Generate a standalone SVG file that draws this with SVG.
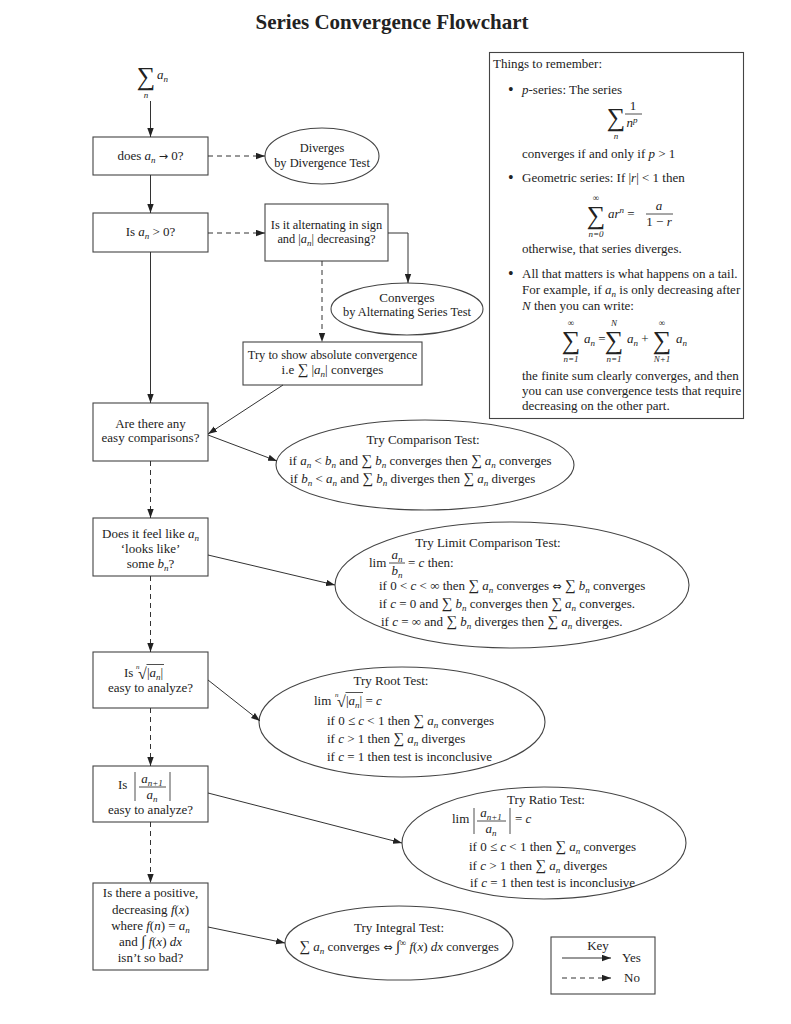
<svg xmlns="http://www.w3.org/2000/svg" width="791" height="1024" viewBox="0 0 791 1024">
<defs>
<marker id="ah" markerWidth="10" markerHeight="7" refX="9" refY="3.5" orient="auto" markerUnits="userSpaceOnUse"><path d="M0,0.3 L9,3.5 L0,6.7 z" fill="#222"/></marker>
<style>
text { font-family: "Liberation Serif", "DejaVu Serif", serif; font-size: 13px; fill: #222; }
.c { text-anchor: middle; }
.m { font-style: italic; }
.sub { font-size: 9px; font-style: italic; }
.sup { font-size: 9px; }
.big { font-size: 26px; }
.s { font-size: 15px; }
.sym { font-family: "DejaVu Sans", sans-serif; font-size: 11px; }
.bul { font-size: 16px; }
.tight { font-size: 12.4px; }
.title { font-size: 21px; font-weight: bold; }
.shape rect, .shape ellipse { fill: #fff; stroke: #444; stroke-width: 1.1; }
.edge { stroke: #333; stroke-width: 1; fill: none; marker-end: url(#ah); }
.dash { stroke-dasharray: 5 4; }
.rule { stroke: #222; stroke-width: 0.8; }
</style>
</defs>
<rect width="791" height="1024" fill="#fff"/>
<text class="title c" x="392" y="29">Series Convergence Flowchart</text>

<g id="start">
<text class="big c" x="146" y="85">∑</text>
<text x="157" y="79"><tspan class="m">a</tspan><tspan class="sub" dy="2.5">n</tspan></text>
<text class="sub c" x="146" y="98">n</text>
</g>

<g id="q-zero" class="shape">
<rect x="93" y="137" width="115" height="38"/>
<text class="c" x="150.5" y="160">does <tspan class="m">a</tspan><tspan class="sub" dy="2.5">n</tspan><tspan dy="-2.5"> </tspan><tspan class="sym">→</tspan> 0?</text>
</g>

<g id="diverges" class="shape">
<ellipse cx="322" cy="156" rx="57" ry="28"/>
<text class="c tight" x="322" y="152">Diverges</text>
<text class="c tight" x="322" y="167">by Divergence Test</text>
</g>

<g id="q-positive" class="shape">
<rect x="93" y="213" width="115" height="39"/>
<text class="c" x="150.5" y="236">Is <tspan class="m">a</tspan><tspan class="sub" dy="2.5">n</tspan><tspan dy="-2.5"> &gt; 0?</tspan></text>
</g>

<g id="q-alternating" class="shape">
<rect x="265" y="204" width="123" height="57"/>
<text class="c tight" x="326.5" y="229">Is it alternating in sign</text>
<text class="c tight" x="326.5" y="243">and |<tspan class="m">a</tspan><tspan class="sub" dy="2.5">n</tspan><tspan dy="-2.5">| decreasing?</tspan></text>
</g>

<g id="alt-converges" class="shape">
<ellipse cx="407" cy="309" rx="76" ry="26"/>
<text class="c" x="407" y="302">Converges</text>
<text class="c tight" x="407" y="316">by Alternating Series Test</text>
</g>

<g id="absolute" class="shape">
<rect x="243" y="342" width="179" height="43"/>
<text class="c tight" x="332.5" y="359">Try to show absolute convergence</text>
<text class="c" x="332.5" y="374">i.e <tspan class="s">∑</tspan> |<tspan class="m">a</tspan><tspan class="sub" dy="2.5">n</tspan><tspan dy="-2.5">| converges</tspan></text>
</g>

<g id="q-comparison" class="shape">
<rect x="93" y="403" width="115" height="58"/>
<text class="c" x="150.5" y="428">Are there any</text>
<text class="c" x="150.5" y="442">easy comparisons?</text>
</g>

<g id="comparison" class="shape">
<ellipse cx="425" cy="465" rx="149" ry="45"/>
<text class="c" x="423" y="444">Try Comparison Test:</text>
<text x="289" y="465">if <tspan class="m">a</tspan><tspan class="sub" dy="2.5">n</tspan><tspan dy="-2.5"> &lt; </tspan><tspan class="m">b</tspan><tspan class="sub" dy="2.5">n</tspan><tspan dy="-2.5"> and </tspan><tspan class="s">∑</tspan> <tspan class="m">b</tspan><tspan class="sub" dy="2.5">n</tspan><tspan dy="-2.5"> converges then </tspan><tspan class="s">∑</tspan> <tspan class="m">a</tspan><tspan class="sub" dy="2.5">n</tspan><tspan dy="-2.5"> converges</tspan></text>
<text x="290" y="483">if <tspan class="m">b</tspan><tspan class="sub" dy="2.5">n</tspan><tspan dy="-2.5"> &lt; </tspan><tspan class="m">a</tspan><tspan class="sub" dy="2.5">n</tspan><tspan dy="-2.5"> and </tspan><tspan class="s">∑</tspan> <tspan class="m">b</tspan><tspan class="sub" dy="2.5">n</tspan><tspan dy="-2.5"> diverges then </tspan><tspan class="s">∑</tspan> <tspan class="m">a</tspan><tspan class="sub" dy="2.5">n</tspan><tspan dy="-2.5"> diverges</tspan></text>
</g>

<g id="q-looks-like" class="shape">
<rect x="93" y="518" width="115" height="58"/>
<text class="c" x="150.5" y="538">Does it feel like <tspan class="m">a</tspan><tspan class="sub" dy="2.5">n</tspan></text>
<text class="c" x="150.5" y="553">‘looks like’</text>
<text class="c" x="150.5" y="568">some <tspan class="m">b</tspan><tspan class="sub" dy="2.5">n</tspan><tspan dy="-2.5">?</tspan></text>
</g>

<g id="limit-comparison" class="shape">
<ellipse cx="512" cy="585" rx="177" ry="63"/>
<text class="c" x="488" y="547">Try Limit Comparison Test:</text>
<text x="369" y="567">lim</text>
<text class="c" x="397" y="559"><tspan class="m">a</tspan><tspan class="sub" dy="2.5">n</tspan></text>
<line class="rule" x1="389" y1="563" x2="405" y2="563"/>
<text class="c" x="397" y="575"><tspan class="m">b</tspan><tspan class="sub" dy="2.5">n</tspan></text>
<text x="408" y="567">= <tspan class="m">c</tspan> then:</text>
<text x="379" y="590">if 0 &lt; <tspan class="m">c</tspan> &lt; ∞ then <tspan class="s">∑</tspan> <tspan class="m">a</tspan><tspan class="sub" dy="2.5">n</tspan><tspan dy="-2.5"> converges </tspan><tspan class="sym">⇔</tspan> <tspan class="s">∑</tspan> <tspan class="m">b</tspan><tspan class="sub" dy="2.5">n</tspan><tspan dy="-2.5"> converges</tspan></text>
<text x="379" y="608">if <tspan class="m">c</tspan> = 0 and <tspan class="s">∑</tspan> <tspan class="m">b</tspan><tspan class="sub" dy="2.5">n</tspan><tspan dy="-2.5"> converges then </tspan><tspan class="s">∑</tspan> <tspan class="m">a</tspan><tspan class="sub" dy="2.5">n</tspan><tspan dy="-2.5"> converges.</tspan></text>
<text x="381" y="626">if <tspan class="m">c</tspan> = ∞ and <tspan class="s">∑</tspan> <tspan class="m">b</tspan><tspan class="sub" dy="2.5">n</tspan><tspan dy="-2.5"> diverges then </tspan><tspan class="s">∑</tspan> <tspan class="m">a</tspan><tspan class="sub" dy="2.5">n</tspan><tspan dy="-2.5"> diverges.</tspan></text>
</g>

<g id="q-root" class="shape">
<rect x="93" y="652" width="115" height="56"/>
<text x="124" y="677">Is</text>
<text class="sub" x="136" y="669" style="font-size:7px">n</text>
<text x="138" y="679" style="font-size:16px">√</text>
<line class="rule" x1="146.5" y1="664.5" x2="164" y2="664.5"/>
<text x="147" y="677">|<tspan class="m">a</tspan><tspan class="sub" dy="2.5">n</tspan><tspan dy="-2.5">|</tspan></text>
<text class="c" x="150.5" y="692">easy to analyze?</text>
</g>

<g id="root" class="shape">
<ellipse cx="402" cy="722" rx="143" ry="55"/>
<text class="c" x="391" y="685">Try Root Test:</text>
<text x="314" y="705">lim</text>
<text class="sub" x="335" y="697" style="font-size:7px">n</text>
<text x="337" y="707" style="font-size:16px">√</text>
<line class="rule" x1="345.5" y1="692.5" x2="363" y2="692.5"/>
<text x="346" y="705">|<tspan class="m">a</tspan><tspan class="sub" dy="2.5">n</tspan><tspan dy="-2.5">| = </tspan><tspan class="m">c</tspan></text>
<text x="327" y="725">if 0 ≤ <tspan class="m">c</tspan> &lt; 1 then <tspan class="s">∑</tspan> <tspan class="m">a</tspan><tspan class="sub" dy="2.5">n</tspan><tspan dy="-2.5"> converges</tspan></text>
<text x="327" y="743">if <tspan class="m">c</tspan> &gt; 1 then <tspan class="s">∑</tspan> <tspan class="m">a</tspan><tspan class="sub" dy="2.5">n</tspan><tspan dy="-2.5"> diverges</tspan></text>
<text x="327" y="761">if <tspan class="m">c</tspan> = 1 then test is inconclusive</text>
</g>

<g id="q-ratio" class="shape">
<rect x="93" y="766" width="115" height="56"/>
<text x="118" y="789">Is</text>
<line class="rule" x1="135" y1="772" x2="135" y2="801"/>
<text class="c" x="152" y="783"><tspan class="m">a</tspan><tspan class="sub" dy="2.5">n+1</tspan></text>
<line class="rule" x1="139" y1="787" x2="166" y2="787"/>
<text class="c" x="152" y="799"><tspan class="m">a</tspan><tspan class="sub" dy="2.5">n</tspan></text>
<line class="rule" x1="170" y1="772" x2="170" y2="801"/>
<text class="c" x="150.5" y="814">easy to analyze?</text>
</g>

<g id="ratio" class="shape">
<ellipse cx="544" cy="843" rx="142" ry="56"/>
<text class="c" x="546" y="804">Try Ratio Test:</text>
<text x="452" y="823">lim</text>
<line class="rule" x1="474" y1="808" x2="474" y2="834"/>
<text class="c" x="491" y="817"><tspan class="m">a</tspan><tspan class="sub" dy="2.5">n+1</tspan></text>
<line class="rule" x1="477" y1="821" x2="506" y2="821"/>
<text class="c" x="491" y="833"><tspan class="m">a</tspan><tspan class="sub" dy="2.5">n</tspan></text>
<line class="rule" x1="510" y1="808" x2="510" y2="834"/>
<text x="515" y="823">= <tspan class="m">c</tspan></text>
<text x="469" y="851">if 0 ≤ <tspan class="m">c</tspan> &lt; 1 then <tspan class="s">∑</tspan> <tspan class="m">a</tspan><tspan class="sub" dy="2.5">n</tspan><tspan dy="-2.5"> converges</tspan></text>
<text x="469" y="870">if <tspan class="m">c</tspan> &gt; 1 then <tspan class="s">∑</tspan> <tspan class="m">a</tspan><tspan class="sub" dy="2.5">n</tspan><tspan dy="-2.5"> diverges</tspan></text>
<text x="470" y="887">if <tspan class="m">c</tspan> = 1 then test is inconclusive</text>
</g>

<g id="q-integral" class="shape">
<rect x="93" y="883" width="115" height="87"/>
<text class="c" x="150.5" y="897">Is there a positive,</text>
<text class="c" x="150.5" y="914">decreasing <tspan class="m">f</tspan>(<tspan class="m">x</tspan>)</text>
<text class="c" x="150.5" y="930">where <tspan class="m">f</tspan>(<tspan class="m">n</tspan>) = <tspan class="m">a</tspan><tspan class="sub" dy="2.5">n</tspan></text>
<text class="c" x="150.5" y="946">and <tspan class="s">∫</tspan> <tspan class="m">f</tspan>(<tspan class="m">x</tspan>) <tspan class="m">dx</tspan></text>
<text class="c" x="150.5" y="962">isn’t so bad?</text>
</g>

<g id="integral" class="shape">
<ellipse cx="399" cy="943" rx="114" ry="37"/>
<text class="c" x="399" y="932">Try Integral Test:</text>
<text class="c" x="399" y="951"><tspan class="s">∑</tspan> <tspan class="m">a</tspan><tspan class="sub" dy="2.5">n</tspan><tspan dy="-2.5"> converges </tspan><tspan class="sym">⇔</tspan> <tspan class="s">∫</tspan><tspan class="sup" dy="-5">∞</tspan><tspan dy="5"> </tspan><tspan class="m">f</tspan>(<tspan class="m">x</tspan>) <tspan class="m">dx</tspan> converges</text>
</g>

<g id="remember" class="shape">
<rect x="489.5" y="52.5" width="254" height="366"/>
<text x="493" y="68">Things to remember:</text>
<text class="bul" x="508" y="95">•</text>
<text x="522" y="94"><tspan class="m">p</tspan>-series: The series</text>
<text class="big c" x="616" y="126">∑</text>
<text class="sub c" x="616" y="139">n</text>
<text class="c" x="633" y="110">1</text>
<line class="rule" x1="625" y1="114" x2="642" y2="114"/>
<text class="c" x="632" y="127"><tspan class="m">n</tspan><tspan class="sup m" dy="-4">p</tspan></text>
<text x="522" y="158">converges if and only if <tspan class="m">p</tspan> &gt; 1</text>
<text class="bul" x="508" y="183">•</text>
<text x="522" y="182">Geometric series: If |<tspan class="m">r</tspan>| &lt; 1 then</text>
<text class="sup c" x="596" y="201">∞</text>
<text class="big c" x="596" y="224">∑</text>
<text class="sub c" x="596" y="237">n=0</text>
<text x="608" y="218"><tspan class="m">ar</tspan><tspan class="sup m" dy="-5">n</tspan><tspan dy="5"> =</tspan></text>
<text class="c" x="659" y="210"><tspan class="m">a</tspan></text>
<line class="rule" x1="646" y1="214" x2="673" y2="214"/>
<text class="c" x="659" y="226">1 − <tspan class="m">r</tspan></text>
<text x="522" y="253">otherwise, that series diverges.</text>
<text class="bul" x="508" y="279">•</text>
<text x="522" y="278">All that matters is what happens on a tail.</text>
<text x="522" y="294">For example, if <tspan class="m">a</tspan><tspan class="sub" dy="2.5">n</tspan><tspan dy="-2.5"> is only decreasing after</tspan></text>
<text x="522" y="310"><tspan class="m">N</tspan> then you can write:</text>
<text class="sup c" x="571" y="326">∞</text>
<text class="big c" x="571" y="349">∑</text>
<text class="sub c" x="571" y="362">n=1</text>
<text x="584" y="343"><tspan class="m">a</tspan><tspan class="sub" dy="2.5">n</tspan><tspan dy="-2.5"> =</tspan></text>
<text class="sub c" x="614" y="326">N</text>
<text class="big c" x="614" y="349">∑</text>
<text class="sub c" x="614" y="362">n=1</text>
<text x="627" y="343"><tspan class="m">a</tspan><tspan class="sub" dy="2.5">n</tspan><tspan dy="-2.5"> +</tspan></text>
<text class="sup c" x="662" y="326">∞</text>
<text class="big c" x="662" y="349">∑</text>
<text class="sub c" x="662" y="362">N+1</text>
<text x="676" y="343"><tspan class="m">a</tspan><tspan class="sub" dy="2.5">n</tspan></text>
<text x="522" y="380">the finite sum clearly converges, and then</text>
<text x="522" y="395">you can use convergence tests that require</text>
<text x="522" y="410">decreasing on the other part.</text>
</g>

<g id="key" class="shape">
<rect x="551" y="937" width="104" height="57"/>
<text class="c" x="598" y="950">Key</text>
<line class="edge" x1="562" y1="958" x2="611" y2="958"/>
<text x="622" y="962">Yes</text>
<line class="edge dash" x1="562" y1="978" x2="611" y2="978"/>
<text x="624" y="982">No</text>
</g>

<g id="connectors">
<line class="edge" x1="150.5" y1="101" x2="150.5" y2="137"/>
<line class="edge dash" x1="208" y1="156" x2="265" y2="156"/>
<line class="edge" x1="150.5" y1="175" x2="150.5" y2="213"/>
<line class="edge dash" x1="208" y1="233" x2="265" y2="233"/>
<path class="edge" d="M388,233 H408 V283"/>
<line class="edge dash" x1="322" y1="261" x2="322" y2="342"/>
<line class="edge" x1="150.5" y1="252" x2="150.5" y2="403"/>
<line class="edge" x1="283" y1="385" x2="208" y2="434"/>
<line class="edge" x1="208" y1="435" x2="277" y2="461"/>
<line class="edge dash" x1="150.5" y1="461" x2="150.5" y2="518"/>
<line class="edge" x1="208" y1="555" x2="335" y2="585"/>
<line class="edge dash" x1="150.5" y1="576" x2="150.5" y2="652"/>
<line class="edge" x1="208" y1="680" x2="260" y2="721"/>
<line class="edge dash" x1="150.5" y1="708" x2="150.5" y2="766"/>
<line class="edge" x1="208" y1="793" x2="402" y2="843"/>
<line class="edge dash" x1="150.5" y1="822" x2="150.5" y2="883"/>
<line class="edge" x1="208" y1="927" x2="285" y2="943"/>
</g>
</svg>
